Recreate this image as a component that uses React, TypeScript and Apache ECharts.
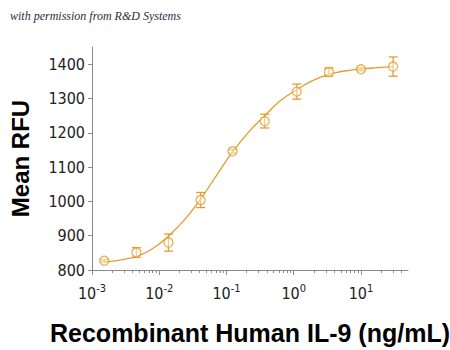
import React, { useEffect, useRef } from "react";
import * as echarts from "echarts";

// Data points (ng/mL) with mean RFU and error (SD)
const concentrations = [0.00152, 0.00457, 0.0137, 0.0412, 0.123, 0.37, 1.11, 3.33, 10, 30];
const meanRFU = [827, 851, 880, 1004, 1146, 1234, 1320, 1377, 1385, 1393];
const errorRFU = [3, 14, 25, 22, 5, 20, 22, 12, 4, 28];

// Fitted curve
const curveX = [0.00151, 0.00316, 0.00468, 0.00794, 0.01396, 0.0251, 0.0417, 0.0708, 0.123, 0.214, 0.372, 0.631, 1.096, 1.905, 3.31, 5.75, 10, 17.8, 30.2];
const curveY = [823, 832, 840, 862, 900, 952, 1008, 1075, 1144, 1202, 1250, 1293, 1325, 1352, 1370, 1380, 1386, 1390, 1393];

const yTicks = [800, 900, 1000, 1100, 1200, 1300, 1400];
const xMajorTicks = [0.001, 0.01, 0.1, 1, 10];
const xMinorTicks = [
  0.002, 0.003, 0.004, 0.005, 0.006, 0.007, 0.008, 0.009,
  0.02, 0.03, 0.04, 0.05, 0.06, 0.07, 0.08, 0.09,
  0.2, 0.3, 0.4, 0.5, 0.6, 0.7, 0.8, 0.9,
  2, 3, 4, 5, 6, 7, 8, 9,
  20, 30, 40,
];

const ORANGE = "#E49C2E";
const AXIS = "#8a8a8a";
const TICKFONT = '"Liberation Sans Narrow", "DejaVu Sans Condensed", "Roboto", sans-serif';
const TITLEFONT = '"Liberation Sans", Arial, sans-serif';

export default function App() {
  const ref = useRef<HTMLDivElement>(null);
  useEffect(() => {
    if (!ref.current) return;
    const chart = echarts.init(ref.current, null, { renderer: "svg" });
    const expOf = (v: number) => Math.round(Math.log10(v));
    chart.setOption({
      animation: false,
      backgroundColor: "#ffffff",
      grid: { left: 84, right: 42, top: 47, bottom: 79, containLabel: false },
      graphic: [
        {
          type: "text",
          left: 10,
          top: 10,
          style: {
            text: "with permission from R&D Systems",
            font: 'italic 12px "Liberation Serif", "DejaVu Serif", serif',
            fill: "#2b2d3c",
          },
        },
      ],
      xAxis: [
        {
          type: "log",
          logBase: 10,
          min: 0.001,
          max: 50,
          position: "bottom",
          name: "Recombinant Human IL-9 (ng/mL)",
          nameLocation: "middle",
          nameGap: 50,
          nameTextStyle: { fontFamily: TITLEFONT, fontWeight: "bold", fontSize: 25, color: "#000" },
          axisLine: { show: true, lineStyle: { color: AXIS, width: 1 } },
          axisTick: { show: true, length: 5, lineStyle: { color: AXIS }, customValues: xMajorTicks },
          splitLine: { show: false },
          axisLabel: {
            customValues: xMajorTicks,
            margin: 13,
            formatter: (v: number) => `{b|10}{s|${expOf(v)}}`,
            rich: {
              b: { fontFamily: TICKFONT, fontSize: 16, color: "#222" },
              s: { fontFamily: TICKFONT, fontSize: 11, color: "#222", padding: [0, 0, 9, 0] },
            },
          },
        },
        {
          type: "log",
          logBase: 10,
          min: 0.001,
          max: 50,
          position: "bottom",
          axisLine: { show: false },
          axisTick: { show: true, length: 3, lineStyle: { color: AXIS }, customValues: xMinorTicks },
          axisLabel: { show: false },
          splitLine: { show: false },
        },
      ],
      yAxis: {
        type: "value",
        min: 800,
        max: 1450,
        interval: 100,
        name: "Mean RFU",
        nameLocation: "middle",
        nameGap: 60,
        nameTextStyle: { fontFamily: TITLEFONT, fontWeight: "bold", fontSize: 24, color: "#000" },
        axisLine: { show: true, lineStyle: { color: AXIS, width: 1 } },
        axisTick: { show: true, length: 4, lineStyle: { color: AXIS }, customValues: yTicks },
        splitLine: { show: false },
        axisLabel: {
          customValues: yTicks,
          margin: 7,
          formatter: (v: number) => String(v),
          fontFamily: TICKFONT,
          fontSize: 16,
          color: "#222",
        },
      },
      series: [
        {
          type: "line",
          xAxisIndex: 0,
          data: curveX.map((x, i) => [x, curveY[i]]),
          smooth: true,
          showSymbol: false,
          lineStyle: { color: ORANGE, width: 1.3 },
          z: 2,
        },
        {
          type: "custom",
          xAxisIndex: 0,
          data: concentrations.map((c, i) => [c, meanRFU[i] - errorRFU[i], meanRFU[i] + errorRFU[i]]),
          encode: { x: 0, y: [1, 2] },
          renderItem: (params: any, api: any) => {
            const x = api.value(0);
            const lo = api.coord([x, api.value(1)]);
            const hi = api.coord([x, api.value(2)]);
            const hw = 4.5;
            const style = { stroke: ORANGE, lineWidth: 1.3 };
            return {
              type: "group",
              children: [
                { type: "line", shape: { x1: lo[0], y1: lo[1], x2: hi[0], y2: hi[1] }, style },
                { type: "line", shape: { x1: hi[0] - hw, y1: hi[1], x2: hi[0] + hw, y2: hi[1] }, style },
                { type: "line", shape: { x1: lo[0] - hw, y1: lo[1], x2: lo[0] + hw, y2: lo[1] }, style },
              ],
            };
          },
          z: 3,
        },
        {
          type: "scatter",
          xAxisIndex: 0,
          data: concentrations.map((c, i) => [c, meanRFU[i]]),
          symbol: "circle",
          symbolSize: 9,
          itemStyle: { color: "rgba(255,255,255,0.6)", borderColor: ORANGE, borderWidth: 1.3 },
          z: 4,
        },
      ],
    });
    return () => chart.dispose();
  }, []);
  return <div ref={ref} style={{ position: "fixed", left: 0, top: 0, width: 450, height: 350 }} />;
}
